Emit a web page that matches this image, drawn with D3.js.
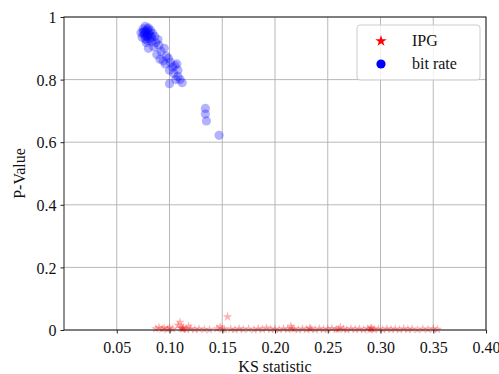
<!DOCTYPE html>
<html>
<head>
<meta charset="utf-8">
<script src="https://cdn.jsdelivr.net/npm/d3@7"></script>
<style>
  body { margin: 0; background: #fff; }
  svg text { font-family: "Liberation Serif", Tinos, "Times New Roman", "DejaVu Serif", serif !important; }
</style>
</head>
<body>
<svg id="chart"></svg>
<script>
// bit rate: [KS statistic, p-value]
const bitRate = [
  [0.073, 0.950], [0.075, 0.962], [0.077, 0.970], [0.078, 0.955], [0.080, 0.965],
  [0.082, 0.958], [0.079, 0.940], [0.076, 0.942], [0.081, 0.930], [0.084, 0.948],
  [0.086, 0.938], [0.083, 0.922], [0.078, 0.918], [0.087, 0.918], [0.089, 0.928],
  [0.080, 0.900], [0.085, 0.905], [0.090, 0.910], [0.092, 0.890], [0.088, 0.880],
  [0.095, 0.900], [0.091, 0.865], [0.094, 0.860], [0.097, 0.875], [0.099, 0.868],
  [0.096, 0.850], [0.101, 0.855], [0.103, 0.840], [0.100, 0.830], [0.105, 0.845],
  [0.107, 0.850], [0.104, 0.820], [0.108, 0.810], [0.110, 0.800], [0.112, 0.790],
  [0.100, 0.787], [0.108, 0.830], [0.106, 0.800], [0.074, 0.935], [0.079, 0.925],
  [0.076, 0.955], [0.077, 0.948], [0.079, 0.962], [0.081, 0.952], [0.078, 0.938],
  [0.080, 0.945], [0.082, 0.940], [0.075, 0.950], [0.083, 0.935], [0.077, 0.930],
  [0.134, 0.708], [0.134, 0.690], [0.135, 0.668], [0.147, 0.622]
];

// IPG: [KS statistic, p-value]
const ipg = [
  [0.087, 0.004], [0.090, 0.008], [0.093, 0.003], [0.095, 0.006], [0.098, 0.002],
  [0.100, 0.007], [0.103, 0.003], [0.108, 0.015], [0.110, 0.025], [0.111, 0.006],
  [0.113, 0.003], [0.116, 0.002], [0.118, 0.012], [0.120, 0.004], [0.124, 0.002],
  [0.128, 0.003], [0.133, 0.002], [0.138, 0.001], [0.145, 0.004], [0.148, 0.010],
  [0.150, 0.003], [0.152, 0.002], [0.155, 0.042], [0.158, 0.003], [0.162, 0.001],
  [0.166, 0.004], [0.170, 0.002], [0.175, 0.003], [0.180, 0.001], [0.184, 0.004],
  [0.188, 0.002], [0.192, 0.006], [0.196, 0.002], [0.200, 0.003], [0.204, 0.001],
  [0.208, 0.004], [0.212, 0.002], [0.215, 0.012], [0.218, 0.003], [0.222, 0.001],
  [0.226, 0.004], [0.230, 0.002], [0.234, 0.003], [0.238, 0.001], [0.242, 0.004],
  [0.246, 0.002], [0.250, 0.003], [0.254, 0.005], [0.258, 0.002], [0.262, 0.008],
  [0.265, 0.003], [0.268, 0.001], [0.272, 0.004], [0.276, 0.002], [0.280, 0.003],
  [0.284, 0.001], [0.288, 0.005], [0.291, 0.007], [0.294, 0.002], [0.298, 0.003],
  [0.302, 0.001], [0.306, 0.004], [0.310, 0.002], [0.314, 0.003], [0.318, 0.001],
  [0.322, 0.004], [0.326, 0.002], [0.330, 0.003], [0.335, 0.001], [0.340, 0.003],
  [0.345, 0.002], [0.350, 0.004], [0.354, 0.002], [0.112, 0.004], [0.113, 0.008],
  [0.292, 0.003], [0.290, 0.001], [0.216, 0.004], [0.260, 0.002], [0.233, 0.006]
];

const xTicks = [0.05, 0.10, 0.15, 0.20, 0.25, 0.30, 0.35, 0.40];
const yTicks = [0, 0.2, 0.4, 0.6, 0.8, 1];
const legendLabels = ["IPG", "bit rate"];

const width = 499, height = 374;
const margin = { top: 17, right: 13, bottom: 44, left: 64 };
const serif = '"Liberation Serif", Tinos, "Times New Roman", "DejaVu Serif", serif';

const svg = d3.select("#chart")
  .attr("width", width)
  .attr("height", height);

const xScale = d3.scaleLinear().domain([0, 0.4]).range([margin.left, width - margin.right]);
const yScale = d3.scaleLinear().domain([0, 1]).range([height - margin.bottom, margin.top]);

// grid
svg.append("g")
  .selectAll("line")
  .data(xTicks)
  .join("line")
  .attr("x1", d => xScale(d)).attr("x2", d => xScale(d))
  .attr("y1", yScale(0)).attr("y2", yScale(1))
  .attr("stroke", "#b0b0b0").attr("stroke-width", 0.9);

svg.append("g")
  .selectAll("line")
  .data(yTicks)
  .join("line")
  .attr("x1", xScale(0)).attr("x2", xScale(0.4))
  .attr("y1", d => yScale(d)).attr("y2", d => yScale(d))
  .attr("stroke", "#b0b0b0").attr("stroke-width", 0.9);

// points
svg.append("g")
  .selectAll("circle")
  .data(bitRate)
  .join("circle")
  .attr("cx", d => xScale(d[0]))
  .attr("cy", d => yScale(d[1]))
  .attr("r", 4.6)
  .attr("fill", "blue")
  .attr("fill-opacity", 0.3);

const star = d3.symbol().type(d3.symbolStar).size(28);
svg.append("g")
  .selectAll("path")
  .data(ipg)
  .join("path")
  .attr("d", star)
  .attr("transform", d => `translate(${xScale(d[0])},${yScale(d[1])})`)
  .attr("fill", "red")
  .attr("fill-opacity", 0.3);

// axes
const xAxis = svg.append("g")
  .attr("transform", `translate(0,${yScale(0)})`)
  .call(d3.axisBottom(xScale).tickValues(xTicks).tickFormat(d3.format(".2f")).tickSize(3.5).tickPadding(5));

const yAxis = svg.append("g")
  .attr("transform", `translate(${xScale(0)},0)`)
  .call(d3.axisLeft(yScale).tickValues(yTicks).tickFormat(d => d3.format("")(d)).tickSize(3.5).tickPadding(4));

[xAxis, yAxis].forEach(a => {
  a.attr("font-family", serif);
  a.select(".domain").remove();
  a.selectAll("line").attr("stroke", "#222");
  a.selectAll("text").attr("font-size", 16).attr("fill", "#111");
});
xAxis.selectAll("text").attr("dy", "0.9em");
yAxis.selectAll("text").attr("dy", "0.35em");

// frame
svg.append("rect")
  .attr("x", xScale(0)).attr("y", yScale(1))
  .attr("width", xScale(0.4) - xScale(0))
  .attr("height", yScale(0) - yScale(1))
  .attr("fill", "none").attr("stroke", "#222").attr("stroke-width", 1);

// labels
svg.append("text")
  .attr("x", (xScale(0) + xScale(0.4)) / 2)
  .attr("y", 372)
  .attr("text-anchor", "middle")
  .attr("font-family", serif)
  .attr("font-size", 16).attr("fill", "#111")
  .text("KS statistic");

svg.append("text")
  .attr("transform", `translate(25,${(yScale(0) + yScale(1)) / 2}) rotate(-90)`)
  .attr("text-anchor", "middle")
  .attr("font-family", serif)
  .attr("font-size", 16).attr("fill", "#111")
  .text("P-Value");

// legend
const legend = svg.append("g").attr("transform", "translate(357,25)");
legend.append("rect")
  .attr("width", 123).attr("height", 55).attr("rx", 3)
  .attr("fill", "white").attr("fill-opacity", 0.8)
  .attr("stroke", "#cccccc");

legend.append("path")
  .attr("d", d3.symbol().type(d3.symbolStar).size(40))
  .attr("transform", "translate(24,16)")
  .attr("fill", "red");
legend.append("circle")
  .attr("cx", 24).attr("cy", 39).attr("r", 4.6)
  .attr("fill", "blue");

legend.selectAll("text.lbl")
  .data(legendLabels)
  .join("text")
  .attr("class", "lbl")
  .attr("x", 55)
  .attr("y", (d, i) => 21 + i * 23)
  .attr("font-family", serif)
  .attr("font-size", 16).attr("fill", "#111")
  .text(d => d);
</script>
</body>
</html>
